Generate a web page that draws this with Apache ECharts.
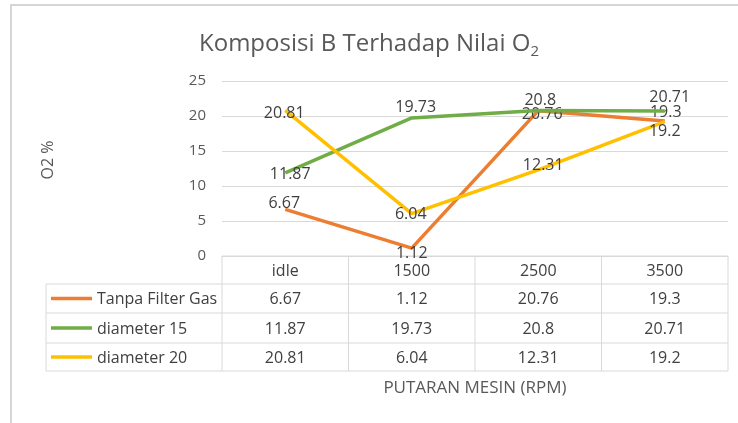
<!DOCTYPE html>
<html>
<head>
<meta charset="utf-8">
<script src="https://cdn.jsdelivr.net/npm/echarts@6/dist/echarts.min.js"></script>
<style>
  html, body { margin: 0; padding: 0; background: #fff; }
  #main { width: 738px; height: 423px; }
</style>
</head>
<body>
<div id="main"></div>
<script>
// data
const categories = ['idle', '1500', '2500', '3500'];
const seriesNames = ['Tanpa Filter Gas', 'diameter 15', 'diameter 20'];
const tanpaFilter = [6.67, 1.12, 20.76, 19.3];
const diameter15 = [11.87, 19.73, 20.8, 20.71];
const diameter20 = [20.81, 6.04, 12.31, 19.2];
const yMin = 0, yMax = 25, yStep = 5;

// styling
const colors = ['#ED7D31', '#70AD47', '#FFC000'];
const font = '"Open Sans", "Noto Sans", sans-serif';
// where excel put each data label, relative to the point
const labelShift = [
  [[-1, -6], [0, 5], [4, 4], [1, -8]],
  [[5, 2], [4, -10], [2, -10], [5, -14]],
  [[-1, 3], [-1, 1], [5, -4], [0, 10]]
];
const allValues = [tanpaFilter, diameter15, diameter20];

let myChart = echarts.init(document.getElementById('main'));

let option = {
  animation: false,
  textStyle: { fontFamily: font },
  title: {
    text: 'Komposisi B Terhadap Nilai O{sub|2}',
    left: 'center',
    top: 25,
    textStyle: {
      fontFamily: font,
      fontSize: 24,
      fontWeight: 'normal',
      color: '#595959',
      rich: {
        sub: { fontSize: 15, color: '#595959', fontFamily: font, padding: [14, 0, 0, 0] }
      }
    }
  },
  grid: { left: 222, right: 10, top: 81, bottom: 167 },
  xAxis: {
    type: 'category',
    data: categories,
    boundaryGap: true,
    axisLine: { lineStyle: { color: '#d9d9d9' } },
    axisTick: { show: false },
    axisLabel: { show: false },
    splitLine: { show: false }
  },
  yAxis: {
    type: 'value',
    min: yMin,
    max: yMax,
    interval: yStep,
    axisLine: { show: false },
    axisTick: { show: false },
    axisLabel: { color: '#595959', fontSize: 15, margin: 16, fontFamily: font },
    splitLine: { lineStyle: { color: '#d9d9d9', width: 1 } }
  },
  series: allValues.map(function (vals, s) {
    return {
      name: seriesNames[s],
      type: 'line',
      data: vals,
      symbol: 'circle',
      symbolSize: 0.1,
      showSymbol: true,
      lineStyle: { color: colors[s], width: 3.5 },
      itemStyle: { color: colors[s] },
      label: {
        show: true,
        position: 'inside',
        color: '#404040',
        fontSize: 16,
        fontFamily: font
      },
      labelLayout: function (params) {
        let d = labelShift[s][params.dataIndex];
        return { dx: d[0], dy: d[1], hideOverlap: false };
      },
      z: 2 + s
    };
  })
};
myChart.setOption(option);

// data table under the plot
function buildTable() {
  let c0 = myChart.convertToPixel({ xAxisIndex: 0 }, 0);
  let c1 = myChart.convertToPixel({ xAxisIndex: 0 }, 1);
  let band = c1 - c0;
  let gridLeft = c0 - band / 2;
  let gridRight = gridLeft + band * categories.length;
  let top = myChart.convertToPixel({ yAxisIndex: 0 }, yMin);
  let rowH = [28, 29, 30, 28];
  let rowY = [top];
  rowH.forEach(function (h) { rowY.push(rowY[rowY.length - 1] + h); });
  let tableLeft = 46;
  let line = { stroke: '#d9d9d9', lineWidth: 1 };
  let g = [];

  // horizontal lines
  g.push({ type: 'line', shape: { x1: gridLeft, y1: rowY[0], x2: gridRight, y2: rowY[0] }, style: line });
  for (let r = 1; r < rowY.length; r++) {
    g.push({ type: 'line', shape: { x1: tableLeft, y1: rowY[r], x2: gridRight, y2: rowY[r] }, style: line });
  }
  // vertical lines
  for (let i = 0; i <= categories.length; i++) {
    let x = gridLeft + band * i;
    g.push({ type: 'line', shape: { x1: x, y1: rowY[0], x2: x, y2: rowY[rowY.length - 1] }, style: line });
  }
  g.push({ type: 'line', shape: { x1: tableLeft, y1: rowY[1], x2: tableLeft, y2: rowY[rowY.length - 1] }, style: line });

  // header
  categories.forEach(function (c, i) {
    g.push({
      type: 'text',
      style: {
        text: c, x: gridLeft + band * (i + 0.5), y: (rowY[0] + rowY[1]) / 2 + 1,
        align: 'center', verticalAlign: 'middle',
        font: '16px ' + font, fill: '#404040'
      }
    });
  });
  // rows
  allValues.forEach(function (vals, s) {
    let cy = (rowY[s + 1] + rowY[s + 2]) / 2 + 1;
    g.push({ type: 'line', shape: { x1: 51, y1: cy - 1, x2: 92, y2: cy - 1 }, style: { stroke: colors[s], lineWidth: 3.5 } });
    g.push({
      type: 'text',
      style: {
        text: seriesNames[s], x: 97, y: cy,
        align: 'left', verticalAlign: 'middle',
        font: '16px ' + font, fill: '#404040'
      }
    });
    vals.forEach(function (v, i) {
      g.push({
        type: 'text',
        style: {
          text: String(v), x: gridLeft + band * (i + 0.5), y: cy,
          align: 'center', verticalAlign: 'middle',
          font: '16px ' + font, fill: '#404040'
        }
      });
    });
  });

  // axis names
  g.push({
    type: 'text',
    style: {
      text: 'PUTARAN MESIN (RPM)', x: (gridLeft + gridRight) / 2, y: 388,
      align: 'center', verticalAlign: 'middle',
      font: '17px ' + font, fill: '#595959'
    }
  });
  g.push({
    type: 'text',
    x: 48, y: 160, rotation: Math.PI / 2,
    style: {
      text: 'O2 %', x: 0, y: 0,
      align: 'center', verticalAlign: 'middle',
      font: '16px ' + font, fill: '#595959'
    }
  });

  // outer frame
  g.push({ type: 'polyline', shape: { points: [[11, 423], [11, 5], [738, 5]] }, style: { stroke: '#d6d6d6', lineWidth: 2, fill: null } });

  myChart.setOption({ graphic: g });
}
buildTable();
</script>
</body>
</html>
